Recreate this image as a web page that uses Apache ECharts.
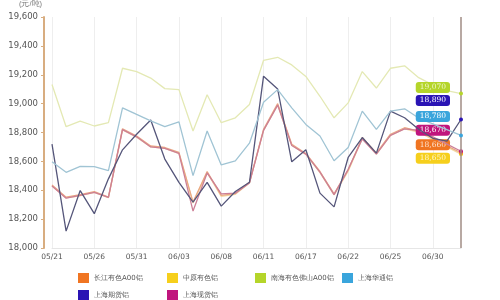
<!DOCTYPE html>
<html>
<head>
<meta charset="utf-8">
<script src="https://cdn.jsdelivr.net/npm/echarts@6/dist/echarts.min.js"></script>
<style>html,body{margin:0;padding:0;background:#fff;}#c{width:500px;height:300px;}</style>
</head>
<body>
<div id="c"></div>
<script>
const dates = ['05/21','05/22','05/23','05/26','05/27','05/29','05/31','06/01','06/02','06/03',
  '06/04','06/05','06/08','06/09','06/10','06/11','06/12','06/16','06/17','06/18',
  '06/19','06/22','06/23','06/24','06/25','06/26','06/29','06/30','07/01','07/02'];
const changjiang = [18437,18352,18369,18391,18352,18826,18776,18707,18696,18662,
  18318,18529,18364,18377,18455,18822,19000,18719,18655,18530,
  18375,18540,18765,18657,18788,18833,18810,18760,18707,18660];
const zhongyuan = [18430,18348,18362,18385,18348,18818,18768,18700,18690,18655,
  18312,18522,18358,18372,18450,18815,18992,18712,18648,18522,
  18368,18532,18758,18650,18780,18826,18802,18752,18700,18650];
const nanhai = [19133,18840,18879,18845,18868,19245,19222,19177,19104,19097,
  18810,19062,18868,18902,18994,19300,19321,19268,19188,19051,
  18902,19005,19222,19108,19245,19262,19180,19130,19090,19070];
const huatong = [18597,18524,18565,18563,18536,18971,18925,18880,18840,18874,
  18501,18810,18575,18604,18726,19010,19097,18971,18856,18776,
  18604,18696,18948,18822,18948,18964,18900,18860,18820,18780];
const qihuo = [18719,18117,18398,18238,18479,18680,18788,18886,18616,18455,
  18318,18455,18290,18391,18455,19190,19101,18597,18680,18380,
  18285,18627,18765,18657,18948,18902,18822,18760,18740,18890];
const xianhuo = [18430,18345,18365,18385,18350,18820,18770,18700,18690,18655,
  18256,18520,18375,18380,18450,18815,18990,18710,18650,18525,
  18370,18545,18755,18650,18780,18825,18815,18770,18720,18670];
const yTicks = [18000,18200,18400,18600,18800,19000,19200,19400,19600];
const names = ['长江有色A00铝','中原有色铝','南海有色佛山A00铝','上海华通铝','上海期货铝','上海现货铝'];

const legendColors = ['#f07522','#f6cf1c','#b5d52a','#3aa5dc','#2a14b4','#c0157d'];
const lineColors = ['#eaa882','#f3d8a4','#e4e9b4','#a0c4d4','#55567a','#cc7f96'];
const labelDy = [-8, 4, -6, -19, -19, -21];
const labelText = ['#fde2cf','#fff6c8','#eef6c8','#ffffff','#ffffff','#ffffff'];
const seriesData = [changjiang, zhongyuan, nanhai, huatong, qihuo, xianhuo];
const order = [1,0,5,4,3,2];

const mk = arr => arr.map((v,i)=> i===arr.length-1 ? {value:v, symbol:'circle', symbolSize:4} : v);
const fmt = v => String(v).replace(/\B(?=(\d{3})+(?!\d))/g, ',');

const series = order.map(k => ({
  name: names[k],
  type: 'line',
  data: mk(seriesData[k]),
  symbol: 'none',
  z: 2 + order.indexOf(k),
  itemStyle: {color: legendColors[k]},
  lineStyle: {color: lineColors[k], width: 1.3},
  emphasis: {disabled: true},
  endLabel: {
    show: true,
    formatter: p => fmt(p.value),
    backgroundColor: legendColors[k],
    color: labelText[k],
    borderRadius: 3,
    padding: [2, 4, 1, 4],
    fontSize: 7.5,
    fontFamily: 'DejaVu Serif',
    align: 'right',
    distance: 0,
    offset: [-11, labelDy[k]]
  },
  markLine: k === 2 ? {
    silent: true, symbol: 'none', label: {show: false},
    lineStyle: {color: '#a08c84', width: 1.5, type: 'solid'},
    data: [{xAxis: dates[dates.length-1]}]
  } : undefined
}));

const legendPos = [[73,268],[162,268],[250,268],[337,268],[73,285],[162,285]];
const legends = names.map((n,k)=>({
  data: [n], left: legendPos[k][0], top: legendPos[k][1],
  icon: 'rect', itemWidth: 11, itemHeight: 10, itemGap: 4,
  textStyle: {fontSize: 7, color: '#555', fontFamily: 'DejaVu Sans'},
  selectedMode: false
}));

const chart = echarts.init(document.getElementById('c'), null, {renderer: 'canvas'});
chart.setOption({
  animation: false,
  backgroundColor: '#fff',
  grid: {left: 52, right: 39, top: 15, bottom: 52},
  legend: legends,
  xAxis: {
    type: 'category', data: dates, boundaryGap: false,
    axisLine: {show: true, lineStyle: {color: '#e6e6e6'}},
    axisTick: {show: false},
    axisLabel: {interval: 2, color: '#555', fontSize: 7.5, fontFamily: 'DejaVu Sans', margin: 5},
    splitLine: {show: true, interval: 2, lineStyle: {color: '#eeeeee'}}
  },
  yAxis: {
    type: 'value', min: yTicks[0], max: yTicks[yTicks.length-1], interval: 200,
    offset: 8,
    name: '(元/吨)', nameLocation: 'end', nameGap: 9,
    nameTextStyle: {color: '#777', fontSize: 7.5, align: 'right', padding: [0, 2, 0, 0]},
    axisLine: {show: true, lineStyle: {color: '#d8ad80', width: 2}},
    axisTick: {show: true, length: 3, lineStyle: {color: '#d8ad80'}},
    axisLabel: {color: '#555', fontSize: 8.5, fontFamily: 'DejaVu Sans', margin: 6,
      formatter: v => fmt(v)},
    splitLine: {show: false}
  },
  series: series
});
</script>
</body>
</html>
